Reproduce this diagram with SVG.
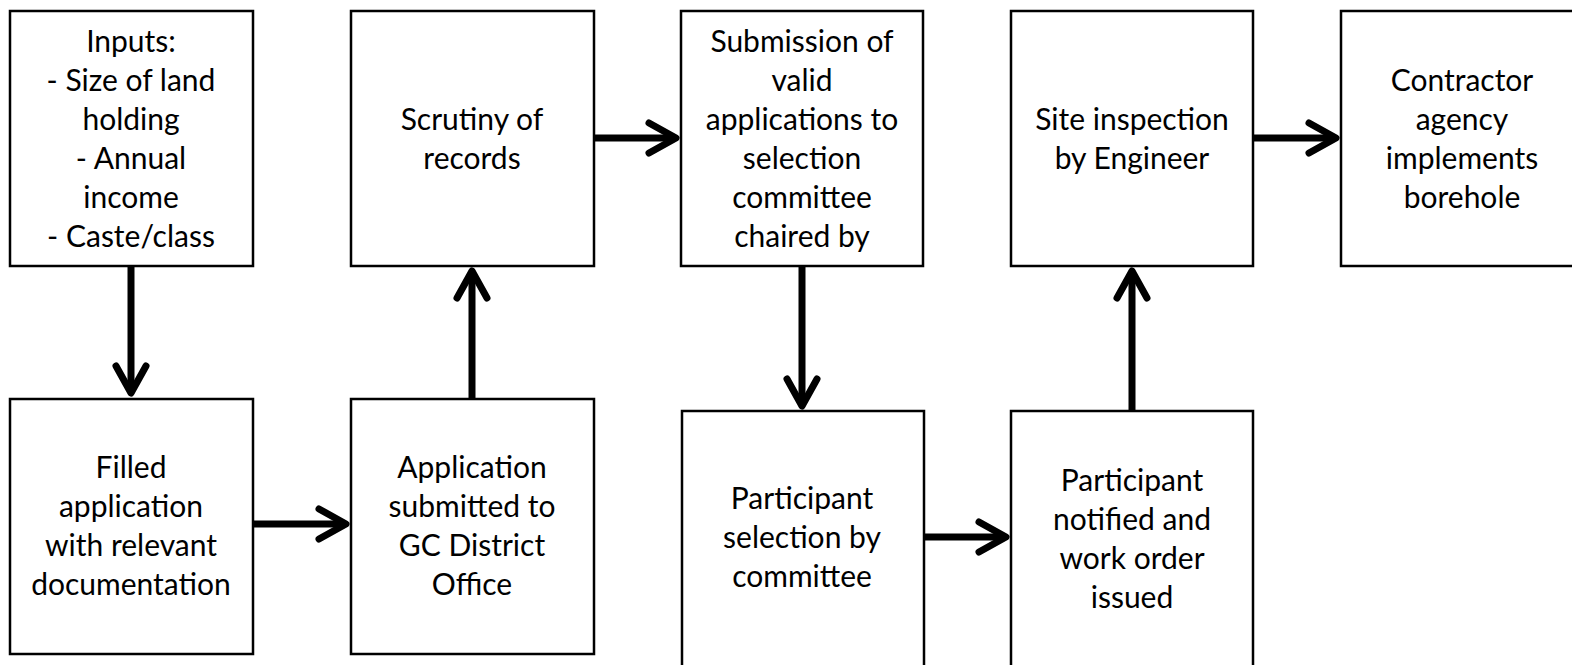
<svg xmlns="http://www.w3.org/2000/svg" width="1572" height="665" viewBox="0 0 1572 665">
<style>
.box{fill:#fff;stroke:#000;stroke-width:2.5}
.t{font-family:Lato,"Liberation Sans",sans-serif;font-size:30px;fill:#000;text-anchor:middle}
.c{fill:none;stroke:#000;stroke-width:7;marker-end:url(#ah)}
</style>
<defs>
<marker id="ah" markerUnits="userSpaceOnUse" markerWidth="60" markerHeight="60" refX="0" refY="0" orient="auto" overflow="visible">
<path d="M-27 -15 L0 0 L-27 15" fill="none" stroke="#000" stroke-width="7" stroke-linecap="round" stroke-linejoin="round"/>
</marker>
</defs>
<rect width="1572" height="665" fill="#fff"/>
<g id="connectors">
<path class="c" d="M131 266 V393"/>
<path class="c" d="M254 524 H346"/>
<path class="c" d="M472 398 V271"/>
<path class="c" d="M595 138 H676"/>
<path class="c" d="M802 266 V406"/>
<path class="c" d="M925 537 H1006"/>
<path class="c" d="M1132 410 V271"/>
<path class="c" d="M1254 138 H1336"/>
</g>
<g id="inputs">
<rect class="box" x="10" y="11" width="243" height="255"/>
<text class="t" x="131"><tspan x="131" y="52">Inputs:</tspan><tspan x="131" y="91">- Size of land</tspan><tspan x="131" y="130">holding</tspan><tspan x="131" y="169">- Annual</tspan><tspan x="131" y="208">income</tspan><tspan x="131" y="247">- Caste/class</tspan></text>
</g>
<g id="scrutiny">
<rect class="box" x="351" y="11" width="243" height="255"/>
<text class="t"><tspan x="472" y="130">Scrutiny of</tspan><tspan x="472" y="169">records</tspan></text>
</g>
<g id="submission">
<rect class="box" x="681" y="11" width="242" height="255"/>
<text class="t"><tspan x="802" y="52">Submission of</tspan><tspan x="802" y="91">valid</tspan><tspan x="802" y="130">applications to</tspan><tspan x="802" y="169">selection</tspan><tspan x="802" y="208">committee</tspan><tspan x="802" y="247">chaired by</tspan></text>
</g>
<g id="site">
<rect class="box" x="1011" y="11" width="242" height="255"/>
<text class="t"><tspan x="1132" y="130">Site inspection</tspan><tspan x="1132" y="169">by Engineer</tspan></text>
</g>
<g id="contractor">
<rect class="box" x="1341" y="11" width="243" height="255"/>
<text class="t"><tspan x="1462" y="91">Contractor</tspan><tspan x="1462" y="130">agency</tspan><tspan x="1462" y="169">implements</tspan><tspan x="1462" y="208">borehole</tspan></text>
</g>
<g id="filled">
<rect class="box" x="10" y="399" width="243" height="255"/>
<text class="t"><tspan x="131" y="478">Filled</tspan><tspan x="131" y="517">application</tspan><tspan x="131" y="556">with relevant</tspan><tspan x="131" y="595">documentation</tspan></text>
</g>
<g id="application">
<rect class="box" x="351" y="399" width="243" height="255"/>
<text class="t"><tspan x="472" y="478">Application</tspan><tspan x="472" y="517">submitted to</tspan><tspan x="472" y="556">GC District</tspan><tspan x="472" y="595">Office</tspan></text>
</g>
<g id="selection">
<rect class="box" x="682" y="411" width="242" height="270"/>
<text class="t"><tspan x="802" y="509">Participant</tspan><tspan x="802" y="548">selection by</tspan><tspan x="802" y="587">committee</tspan></text>
</g>
<g id="notified">
<rect class="box" x="1011" y="411" width="242" height="270"/>
<text class="t"><tspan x="1132" y="491">Participant</tspan><tspan x="1132" y="530">notified and</tspan><tspan x="1132" y="569">work order</tspan><tspan x="1132" y="608">issued</tspan></text>
</g>
</svg>
